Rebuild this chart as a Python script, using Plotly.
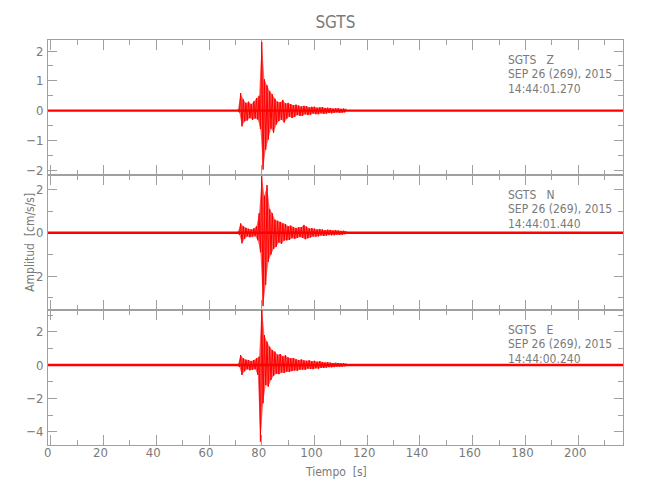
import plotly.graph_objects as go
from plotly.subplots import make_subplots

# ---------------- data ----------------
station = "SGTS"
components = ["Z", "N", "E"]
date_label = "SEP 26 (269), 2015"
start_times = ["14:44:01.270", "14:44:01.440", "14:44:00.240"]

# time axis of the records [s]
record_span = [-1.06, 217.0]

# background noise half-width of each trace [cm/s/s]
noise_level = [0.04, 0.055, 0.07]

# sampled waveform around the event, every 0.5 s from 71.0 s
wave_start = 71.0
wave_step = 0.5

z_amp = [
    0.05, -0.06, 0.59, -0.53, 0.38, -0.36, 0.26, -0.33, 0.30, -0.25,
    0.22, -0.31, 0.31, -0.26, 0.42, -0.30, 0.50, -0.62, 2.30, -1.98,
    1.05, -1.31, 0.85, -0.97, 0.66, -0.60, 0.55, -0.74, 0.40, -0.47,
    0.30, -0.35, 0.28, -0.30, 0.36, -0.40, 0.24, -0.27, 0.26, -0.20,
    0.22, -0.25, 0.18, -0.21, 0.20, -0.15, 0.17, -0.18, 0.14, -0.17,
    0.16, -0.12, 0.15, -0.15, 0.11, -0.14, 0.13, -0.10, 0.13, -0.12,
    0.10, -0.12, 0.11, -0.09, 0.12, -0.11, 0.09, -0.10, 0.10, -0.08,
    0.09, -0.09, 0.07, -0.08, 0.08, -0.06, 0.08, -0.08, 0.06, -0.07,
    0.07, -0.06, 0.06,
]

n_amp = [
    0.06, -0.10, 0.43, -0.49, 0.30, -0.28, 0.22, -0.17, 0.18, -0.21,
    0.15, -0.18, 0.20, -0.16, 0.30, -0.35, 0.90, -0.90, 2.60, -3.38,
    1.70, -2.40, 2.20, -1.34, 1.10, -1.00, 0.90, -0.75, 0.60, -0.65,
    0.55, -0.45, 0.50, -0.52, 0.42, -0.36, 0.40, -0.35, 0.30, -0.33,
    0.33, -0.25, 0.26, -0.28, 0.22, -0.24, 0.25, -0.20, 0.26, -0.24,
    0.36, -0.30, 0.28, -0.25, 0.20, -0.22, 0.21, -0.17, 0.19, -0.18,
    0.15, -0.17, 0.17, -0.13, 0.15, -0.15, 0.12, -0.14, 0.14, -0.11,
    0.13, -0.12, 0.10, -0.12, 0.12, -0.09, 0.10, -0.10, 0.08, -0.10,
    0.09, -0.07, 0.08,
]

e_amp = [
    0.06, -0.12, 0.60, -0.60, 0.40, -0.38, 0.32, -0.26, 0.30, -0.32,
    0.24, -0.30, 0.30, -0.25, 0.40, -0.60, 0.50, -4.60, 3.60, -2.30,
    1.80, -1.20, 1.40, -1.30, 1.10, -0.90, 0.90, -0.65, 0.80, -0.52,
    0.62, -0.55, 0.66, -0.45, 0.52, -0.48, 0.58, -0.40, 0.45, -0.42,
    0.40, -0.36, 0.42, -0.33, 0.34, -0.35, 0.30, -0.28, 0.33, -0.27,
    0.27, -0.29, 0.25, -0.22, 0.28, -0.24, 0.22, -0.25, 0.25, -0.20,
    0.20, -0.22, 0.23, -0.17, 0.18, -0.18, 0.15, -0.16, 0.17, -0.13,
    0.14, -0.14, 0.12, -0.13, 0.13, -0.10, 0.12, -0.11, 0.09, -0.11,
    0.10, -0.08, 0.09,
]

y_ranges = [[-2.16, 2.37], [-3.56, 2.66], [-4.80, 3.30]]
y_tickvals = [[-2, -1, 0, 1, 2], [-2, 0, 2], [-4, -2, 0, 2]]
y_ticktext = [["\u22122", "\u22121", "0", "1", "2"], ["2", "0", "2"], ["\u22124", "\u22122", "0", "2"]]
y_minor = [0.5, 1, 1]

x_tickvals = [0, 20, 40, 60, 80, 100, 120, 140, 160, 180, 200]

# ---------------- figure ----------------
FONT = "DejaVu Sans Condensed, DejaVu Sans, sans-serif"
GRAY = "#a0a0a0"
TXT = "#7a7a7a"
RED = "#ff0000"

fig = make_subplots(rows=3, cols=1, shared_xaxes=True, vertical_spacing=0)

for i, amp in enumerate([z_amp, n_amp, e_amp]):
    row = i + 1
    nz = noise_level[i]
    # background noise band
    fig.add_trace(go.Scatter(
        x=[record_span[0], record_span[1], record_span[1], record_span[0]],
        y=[-nz, -nz, nz, nz], fill="toself", fillcolor=RED,
        mode="lines", line=dict(width=0, color=RED), hoverinfo="skip",
        showlegend=False), row=row, col=1)
    t = [wave_start + wave_step * k for k in range(len(amp))]
    # envelope (positive peaks forward, negative peaks back)
    t_pos = [tt for tt, a in zip(t, amp) if a >= 0]
    a_pos = [a for a in amp if a >= 0]
    t_neg = [tt for tt, a in zip(t, amp) if a < 0]
    a_neg = [a for a in amp if a < 0]
    fig.add_trace(go.Scatter(
        x=t_pos + t_neg[::-1], y=a_pos + a_neg[::-1], fill="toself",
        fillcolor="rgba(255,0,0,0.62)", mode="lines", line=dict(width=0),
        hoverinfo="skip", showlegend=False), row=row, col=1)
    # waveform
    fig.add_trace(go.Scatter(
        x=t, y=amp, mode="lines", line=dict(color=RED, width=1, simplify=False),
        showlegend=False), row=row, col=1)

    fig.update_yaxes(
        range=y_ranges[i], tickmode="array", tickvals=y_tickvals[i],
        ticktext=y_ticktext[i], ticks="inside", ticklen=9, tickcolor=GRAY,
        minor=dict(dtick=y_minor[i], tick0=0, ticks="inside", ticklen=5, tickcolor=GRAY),
        showline=True, linecolor=GRAY, linewidth=1, mirror="ticks",
        showgrid=False, zeroline=False, layer="below traces",
        tickfont=dict(family=FONT, size=13, color=TXT), ticklabelstandoff=1,
        row=row, col=1)

    fig.update_xaxes(
        range=record_span, tickmode="array", tickvals=x_tickvals,
        ticks="inside", ticklen=10, tickcolor=GRAY,
        minor=dict(dtick=10, tick0=0, ticks="inside", ticklen=5, tickcolor=GRAY),
        showline=True, linecolor=GRAY, linewidth=1, mirror="ticks",
        showgrid=False, zeroline=False, layer="below traces",
        showticklabels=(row == 3),
        tickfont=dict(family=FONT, size=13, color=TXT),
        row=row, col=1)

    yd = "y domain" if row == 1 else f"y{row} domain"
    xr = "x" if row == 1 else f"x{row}"
    lines = [f"{station}   {components[i]}", date_label, start_times[i]]
    for j, txt in enumerate(lines):
        fig.add_annotation(
            x=172.8, y=[0.855, 0.745, 0.635][j], xref=xr, yref=yd,
            text=txt, showarrow=False, xanchor="left", yanchor="middle",
            font=dict(family=FONT, size=12, color=TXT))

fig.update_xaxes(ticklabelshift=-3, ticklabelstandoff=-5, row=3, col=1)

fig.add_annotation(
    x=-0.0325, y=0.5, xref="paper", yref="paper", text="Amplitud  [cm/s/s]",
    textangle=-90, showarrow=False, xanchor="center", yanchor="middle",
    font=dict(family=FONT, size=12, color=TXT))
fig.add_annotation(
    x=0.5, y=-0.0667, xref="paper", yref="paper", text="Tiempo  [s]",
    showarrow=False, xanchor="center", yanchor="middle",
    font=dict(family=FONT, size=12, color=TXT))

fig.update_layout(
    width=650, height=500,
    margin=dict(l=48, r=27, t=40, b=55),
    paper_bgcolor="white", plot_bgcolor="white",
    title=dict(text=station, x=0.5160, xanchor="center", y=0.956, yref="container",
               yanchor="middle", font=dict(family=FONT, size=17, color=TXT)),
    showlegend=False,
)

fig.write_html("out.html", config={"displayModeBar": False},
               post_script="document.body.style.margin='0';")
